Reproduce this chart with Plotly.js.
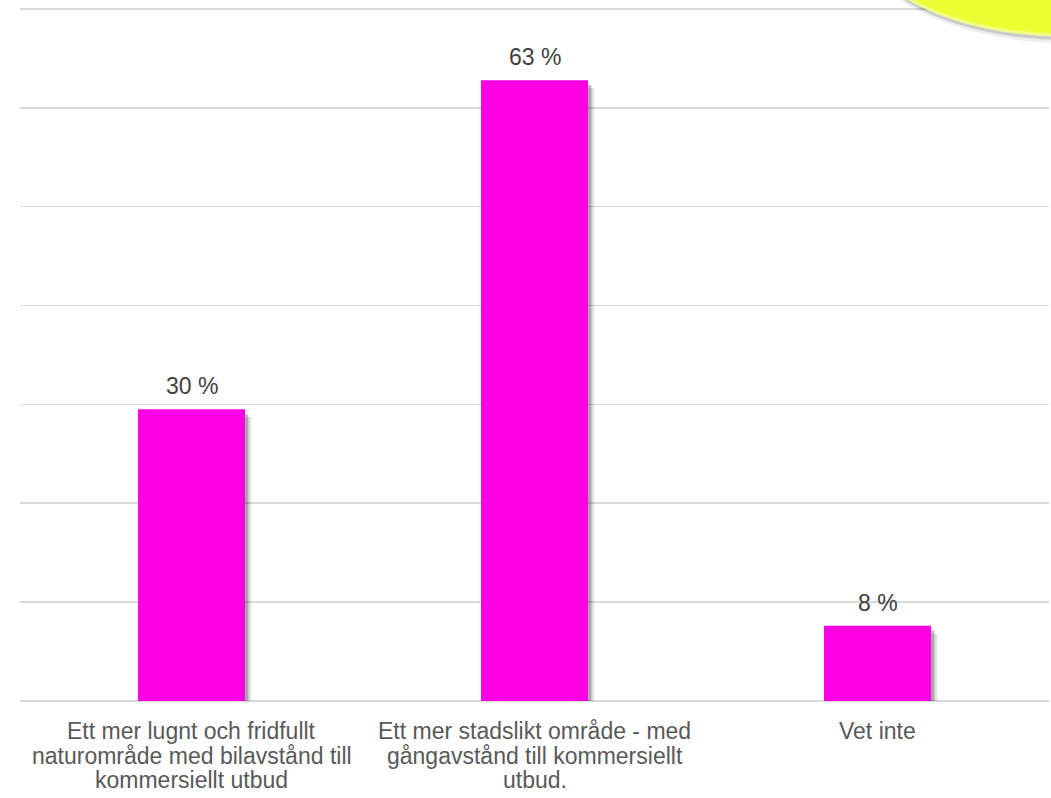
<!DOCTYPE html>
<html>
<head>
<meta charset="utf-8">
<script src="https://cdn.plot.ly/plotly-3.0.1.min.js"></script>
<style>
html,body{margin:0;padding:0;background:#fff;}
#chart{width:1051px;height:798px;}
</style>
</head>
<body>
<div id="chart"></div>
<script>
// ---- data ----
var categories = [
  "Ett mer lugnt och fridfullt<br>naturområde med bilavstånd till<br>kommersiellt utbud",
  "Ett mer stadslikt område - med<br>gångavstånd till kommersiellt<br>utbud.",
  "Vet inte"
];
var values = [29.5, 62.8, 7.6];
var valueLabels = ["30 %", "63 %", "8 %"];
var yTicks = [0, 10, 20, 30, 40, 50, 60, 70];

// ---- styling ----
var barColor = "#FF00E4";
var barWidth = 0.312;
var font = "Liberation Sans, Arial, sans-serif";

var traces = [
  { // soft shadow (outer)
    type: "bar", x: categories, y: values.map(function(v){return v - 0.3;}),
    base: -0.5, width: barWidth, offset: -barWidth/2 + 0.018,
    marker: {color: "rgba(0,0,0,0.12)"}, hoverinfo: "skip", showlegend: false
  },
  { // shadow (inner)
    type: "bar", x: categories, y: values.map(function(v){return v - 0.2;}),
    base: -0.3, width: barWidth, offset: -barWidth/2 + 0.010,
    marker: {color: "rgba(0,0,0,0.25)"}, hoverinfo: "skip", showlegend: false
  },
  {
    type: "bar", x: categories, y: values,
    width: barWidth, offset: -barWidth/2,
    marker: {color: barColor}, hoverinfo: "skip", showlegend: false
  }
];

var annotations = [];
categories.forEach(function(c, i){
  annotations.push({
    x: c, y: values[i], xref: "x", yref: "y",
    text: valueLabels[i], showarrow: false,
    yanchor: "bottom", yshift: 8,
    font: {family: font, size: 23, color: "#404040"}
  });
  c.split("<br>").forEach(function(line, j){
    annotations.push({
      x: c, y: 0, xref: "x", yref: "paper",
      text: line, showarrow: false,
      yanchor: "middle", yshift: -30 - 24.5*j,
      font: {family: font, size: 23, color: "#595959"}
    });
  });
});

function px2x(p){ return (p - 20) / 1029; }
function py2y(p){ return (701 - p) / 697; }
var ex0 = 862, ex1 = 1270, ey0 = -166, ey1 = 35;
var shapes = [
  {type: "circle", xref: "paper", yref: "paper", layer: "above",
   x0: px2x(ex0+2), x1: px2x(ex1+2), y0: py2y(ey1+8), y1: py2y(ey0+8),
   fillcolor: "rgba(0,0,0,0.07)", line: {width: 0}},
  {type: "circle", xref: "paper", yref: "paper", layer: "above",
   x0: px2x(ex0+1), x1: px2x(ex1+1), y0: py2y(ey1+5), y1: py2y(ey0+5),
   fillcolor: "rgba(0,0,0,0.14)", line: {width: 0}},
  {type: "circle", xref: "paper", yref: "paper", layer: "above",
   x0: px2x(ex0), x1: px2x(ex1), y0: py2y(ey1), y1: py2y(ey0),
   fillcolor: "#EBFF33", line: {color: "#F2FF85", width: 3}}
];

var layout = {
  width: 1051, height: 798,
  margin: {l: 20, r: 2, t: 4, b: 97},
  paper_bgcolor: "#ffffff", plot_bgcolor: "#ffffff",
  barmode: "overlay",
  showlegend: false,
  xaxis: {
    type: "category", showticklabels: false, showgrid: false,
    zeroline: false, showline: false, ticks: "", fixedrange: true
  },
  yaxis: {
    range: [0, 70.5], tickvals: yTicks, showticklabels: false,
    showgrid: true, gridcolor: "#D9D9D9", gridwidth: 1.6,
    zeroline: true, zerolinecolor: "#D9D9D9", zerolinewidth: 1.6,
    showline: false, ticks: "", fixedrange: true
  },
  annotations: annotations,
  shapes: shapes
};

Plotly.newPlot("chart", traces, layout, {displayModeBar: false, staticPlot: true});
</script>
</body>
</html>
